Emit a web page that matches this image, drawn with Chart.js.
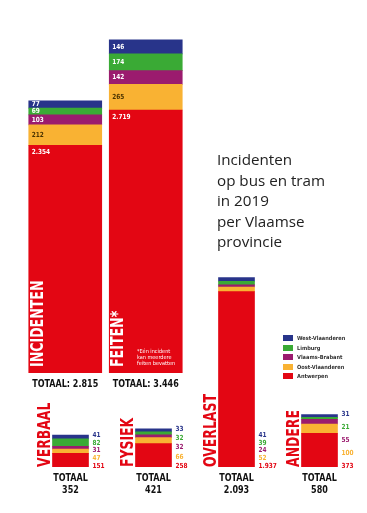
<!DOCTYPE html>
<html>
<head>
<meta charset="utf-8">
<script src="https://cdn.jsdelivr.net/npm/chart.js@4"></script>
<style>
  html, body { margin: 0; padding: 0; background: #fff; }
  #page { position: relative; width: 367px; height: 513px; overflow: hidden; }
  canvas { position: absolute; left: 0; top: 0; }
  #title { position: absolute; left: 217px; top: 149px; font: 15.2px "Open Sans", sans-serif; line-height: 20.5px; color: #222; }
  #note { position: absolute; left: 137px; top: 348px; font: 5.5px "DejaVu Sans Condensed", sans-serif; line-height: 6px; color: #fff; }
  #legend { position: absolute; left: 283px; top: 334px; font: bold 5.6px "DejaVu Sans Condensed", sans-serif; color: #333; }
  #legend div { height: 9.6px; line-height: 9.6px; white-space: nowrap; }
  #legend span { display: inline-block; width: 10px; height: 6px; margin-right: 4px; vertical-align: -1px; }
</style>
</head>
<body>
<div id="page">
  <canvas id="top" width="367" height="513"></canvas>
  <canvas id="bottom" width="367" height="513"></canvas>
  <div id="title">Incidenten<br>op bus en tram<br>in 2019<br>per Vlaamse<br>provincie</div>
  <div id="note">*Eén incident<br>kan meerdere<br>feiten bevatten</div>
  <div id="legend"></div>
</div>
<script>
const categories = ['INCIDENTEN', 'FEITEN*', 'VERBAAL', 'FYSIEK', 'OVERLAST', 'ANDERE'];
const provinces = ['Antwerpen', 'Oost-Vlaanderen', 'Vlaams-Brabant', 'Limburg', 'West-Vlaanderen'];
const antwerpen = [2354, 2719, 151, 258, 1937, 373];
const oostVlaanderen = [212, 265, 47, 66, 52, 100];
const vlaamsBrabant = [103, 142, 31, 32, 24, 55];
const limburg = [69, 174, 82, 32, 39, 21];
const westVlaanderen = [77, 146, 41, 33, 41, 31];
const colors = ['#e30613', '#f9b233', '#9b1b6e', '#3aaa35', '#28348a'];

const series = [antwerpen, oostVlaanderen, vlaamsBrabant, limburg, westVlaanderen];
const boldFont = "'DejaVu Sans Condensed', 'Liberation Sans Narrow', sans-serif";

function fmt(n) {
  return String(n).replace(/\B(?=(\d{3})+(?!\d))/g, '.');
}

// draw text, optionally rotated and squeezed along its own direction
function text(ctx, str, x, y, o) {
  ctx.save();
  ctx.translate(x, y);
  if (o.rotate) ctx.rotate(o.rotate);
  ctx.scale(o.sx || 1, 1);
  ctx.font = o.font;
  ctx.fillStyle = o.color;
  ctx.textAlign = o.align || 'left';
  ctx.textBaseline = o.baseline || 'middle';
  ctx.fillText(str, 0, 0);
  ctx.restore();
}

function datasets(from, to, thickness) {
  return provinces.map((p, i) => ({
    label: p,
    data: series[i].slice(from, to),
    backgroundColor: colors[i],
    borderWidth: 0,
    barThickness: thickness
  }));
}

function barsOf(chart) {
  // per category: list of segments, Antwerpen (bottom) first
  const out = [];
  chart.data.datasets.forEach((ds, i) => {
    chart.getDatasetMeta(i).data.forEach((bar, j) => {
      const p = bar.getProps(['x', 'y', 'base', 'width'], true);
      (out[j] = out[j] || []).push({ ...p, value: ds.data[j], i });
    });
  });
  return out;
}

const topLabels = {
  id: 'topLabels',
  afterDatasetsDraw(chart) {
    const ctx = chart.ctx;
    const labels = chart.data.labels;
    barsOf(chart).forEach((segs, j) => {
      const left = segs[0].x - segs[0].width / 2;
      const base = segs[0].base;
      segs.forEach(s => {
        const y = s.i === 0 ? s.y + 7 : (s.y + s.base) / 2;
        text(ctx, fmt(s.value), left + 3, y, {
          font: 'bold 7px ' + boldFont, color: s.i === 1 ? '#4a3300' : '#fff', sx: 0.92
        });
      });
      text(ctx, labels[j], left + 9.5, base - 6, {
        font: 'bold 17.5px ' + boldFont, color: '#fff', rotate: -Math.PI / 2, sx: 0.8
      });
      const total = segs.reduce((a, s) => a + s.value, 0);
      text(ctx, 'TOTAAL: ' + fmt(total), segs[0].x, base + 11, {
        font: 'bold 10.5px ' + boldFont, color: '#111', align: 'center', sx: 0.85
      });
    });
  }
};

const bottomLabels = {
  id: 'bottomLabels',
  afterDatasetsDraw(chart) {
    const ctx = chart.ctx;
    const labels = chart.data.labels;
    barsOf(chart).forEach((segs, j) => {
      const left = segs[0].x - segs[0].width / 2;
      const right = segs[0].x + segs[0].width / 2;
      const base = segs[0].base;
      const h = base - segs[segs.length - 1].y;
      const step = h < 60 ? (h - 1) / 4 : 7.7;
      segs.forEach((s, k) => {
        text(ctx, fmt(s.value), right + 4, base - 1 - k * step, {
          font: 'bold 7px ' + boldFont, color: colors[s.i], sx: 0.92
        });
      });
      text(ctx, labels[j], left - 3, base, {
        font: 'bold 17.5px ' + boldFont, color: '#e30613', rotate: -Math.PI / 2,
        sx: 0.79, baseline: 'alphabetic'
      });
      const total = segs.reduce((a, s) => a + s.value, 0);
      const o = { font: 'bold 10.5px ' + boldFont, color: '#111', align: 'center', sx: 0.85 };
      text(ctx, 'TOTAAL', segs[0].x, base + 11, o);
      text(ctx, fmt(total), segs[0].x, base + 23, o);
    });
  }
};

function baseOptions(yMax, padding) {
  return {
    responsive: false,
    devicePixelRatio: 1,
    animation: false,
    layout: { padding },
    plugins: { legend: { display: false }, tooltip: { enabled: false } },
    scales: {
      x: { stacked: true, display: false },
      y: { stacked: true, display: false, min: 0, max: yMax }
    }
  };
}

new Chart('top', {
  type: 'bar',
  data: { labels: categories.slice(0, 2), datasets: datasets(0, 2, 73) },
  options: baseOptions(3650, { left: 25, right: 181, top: 20, bottom: 140 }),
  plugins: [topLabels]
});

new Chart('bottom', {
  type: 'bar',
  data: { labels: categories.slice(2), datasets: datasets(2, 6, 36) },
  options: baseOptions(2287, { left: 29, right: 6, top: 260, bottom: 46 }),
  plugins: [bottomLabels]
});

const legend = document.getElementById('legend');
provinces.slice().reverse().forEach((p, k) => {
  const row = document.createElement('div');
  row.innerHTML = '<span style="background:' + colors[provinces.length - 1 - k] + '"></span>' + p;
  legend.appendChild(row);
});
</script>
</body>
</html>
